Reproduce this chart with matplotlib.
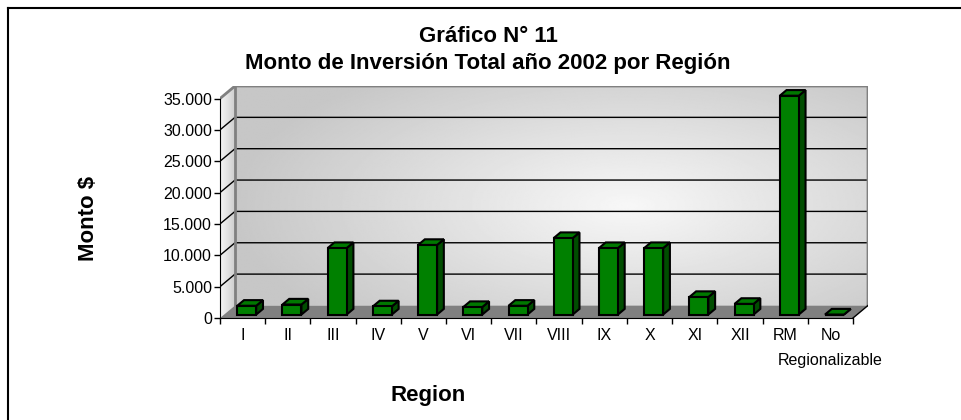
import numpy as np
import matplotlib
matplotlib.use('Agg')
import matplotlib.pyplot as plt
import matplotlib.transforms as mtransforms
from matplotlib.patches import Polygon
from matplotlib.lines import Line2D
from matplotlib.ticker import FuncFormatter

plt.rcParams['font.family'] = ['Liberation Sans', 'DejaVu Sans']

# datos
regiones = ['I', 'II', 'III', 'IV', 'V', 'VI', 'VII', 'VIII', 'IX', 'X',
            'XI', 'XII', 'RM', 'No\nRegionalizable']
montos = [1400, 1600, 10600, 1300, 11100, 1200, 1400, 12200, 10600, 10600,
          2800, 1700, 34900, 0]
ticks_y = np.arange(0, 35001, 5000)

W, H = 961, 420
fig = plt.figure(figsize=(W / 100, H / 100), dpi=100)
ax = fig.add_axes([220 / W, 1 - 318 / H, (868 - 220) / W, (318 - 86) / H])

n = len(regiones)
ymax = ticks_y[-1]
DX = 0.332   # profundidad en unidades de categoria
DY = 2000    # profundidad en unidades de valor

# pared del fondo con degradado
gx, gy = np.meshgrid(np.linspace(0, 1, 400), np.linspace(0, 1, 200))
r = np.sqrt(((gx - 0.62) / 0.62) ** 2 + ((gy - 0.45) / 0.75) ** 2)
shade = 0.97 - 0.19 * np.clip(r, 0, 1)
ax.imshow(shade, cmap='gray', vmin=0, vmax=1, origin='lower', aspect='auto',
          extent=(DX, n + DX, DY, ymax + DY), interpolation='bilinear', zorder=0)

# pared izquierda
lx = np.linspace(0, 1, 50)[None, :].repeat(10, axis=0)
lshade = 0.96 - 0.16 * lx
im = ax.imshow(lshade, cmap='gray', vmin=0, vmax=1, origin='lower', aspect='auto',
               extent=(0, DX, 0, ymax + DY), interpolation='bilinear', zorder=0)
left_wall = Polygon([(0, 0), (DX, DY), (DX, ymax + DY), (0, ymax)],
                    closed=True, fc='none', ec='none', transform=ax.transData)
ax.add_patch(left_wall)
im.set_clip_path(left_wall)

# piso
ax.add_patch(Polygon([(0, 0), (n, 0), (n + DX, DY), (DX, DY)], closed=True,
                     fc='#808080', ec='none', zorder=1))

# lineas de division
for v in ticks_y[1:-1]:
    ax.plot([0, DX, n + DX], [v, v + DY, v + DY], color='black', lw=1, zorder=1)
ax.plot([0, DX, n + DX, n + DX], [ymax, ymax + DY, ymax + DY, DY],
        color='#808080', lw=2, zorder=1)
ax.plot([DX, DX], [DY, ymax + DY], color='#808080', lw=2, zorder=1)
ax.plot([n, n + DX], [0, DY], color='black', lw=1, zorder=2)

# barras 3D
w = 0.42
d = 0.45
f = (1 - d) / 2
x0s = np.arange(n) + 0.5 - w / 2 + f * DX
y0 = f * DY
for x0, v in zip(x0s, montos):
    top = [(x0, y0 + v), (x0 + w, y0 + v), (x0 + w + d * DX, y0 + v + d * DY),
           (x0 + d * DX, y0 + v + d * DY)]
    side = [(x0 + w, y0), (x0 + w + d * DX, y0 + d * DY),
            (x0 + w + d * DX, y0 + v + d * DY), (x0 + w, y0 + v)]
    ax.add_patch(Polygon(side, closed=True, fc='#004d00', ec='black', lw=1.5, zorder=3))
    ax.add_patch(Polygon(top, closed=True, fc='#007800', ec='black', lw=1.5, zorder=3))
ax.bar(x0s, montos, width=w, bottom=y0, align='edge', color='#008000',
       edgecolor='black', lw=1.5, zorder=4)

ax.set_xlim(0, n + DX)
ax.set_ylim(0, ymax + DY)

for s in ['top', 'right']:
    ax.spines[s].set_visible(False)
ax.spines['left'].set_bounds(0, ymax)
ax.spines['bottom'].set_bounds(0, n)
ax.spines['left'].set_zorder(5)
ax.spines['bottom'].set_zorder(5)

# etiquetas de categoria: primera linea como tick, segunda linea aparte
primera = [r.split('\n')[0] for r in regiones]
ax.set_xticks(np.arange(n + 1))
ax.set_xticklabels([])
ax.set_xticks(np.arange(n) + 0.5, minor=True)
ax.set_xticklabels(primera, minor=True)
ax.tick_params(axis='x', which='major', length=4.3, width=1, direction='out')
ax.tick_params(axis='x', which='minor', length=0, pad=7, labelsize=11.5)
trans = mtransforms.blended_transform_factory(ax.transData, fig.transFigure)
for i, r in enumerate(regiones):
    if '\n' in r:
        ax.text(i + 0.5, 1 - 361 / H, r.split('\n')[1], transform=trans,
                ha='center', va='center', fontsize=11.5, clip_on=False)

ax.set_yticks(ticks_y)
ax.yaxis.set_major_formatter(FuncFormatter(lambda v, p: f'{int(v):,}'.replace(',', '.')))
ax.tick_params(axis='y', length=4.3, width=1, pad=1.5, labelsize=11.5)

fig.text(488 / W, 1 - 36 / H, 'Gráfico N° 11', ha='center', va='center',
         fontsize=16, fontweight='bold')
fig.text(488 / W, 1 - 63 / H, 'Monto de Inversión Total año 2002 por Región',
         ha='center', va='center', fontsize=16, fontweight='bold')
fig.text(88 / W, 1 - 218 / H, 'Monto $', rotation=90, ha='center', va='center',
         fontsize=16, fontweight='bold')
fig.text(428 / W, 1 - 395 / H, 'Region', ha='center', va='center',
         fontsize=16, fontweight='bold')

# borde exterior
fig.add_artist(Line2D([8 / W, 8 / W], [0, 1 - 7.5 / H], transform=fig.transFigure,
                      color='black', lw=1.5))
fig.add_artist(Line2D([8 / W, 1], [1 - 7.5 / H, 1 - 7.5 / H], transform=fig.transFigure,
                      color='black', lw=1.5))

fig.savefig('out.png', dpi=100)
